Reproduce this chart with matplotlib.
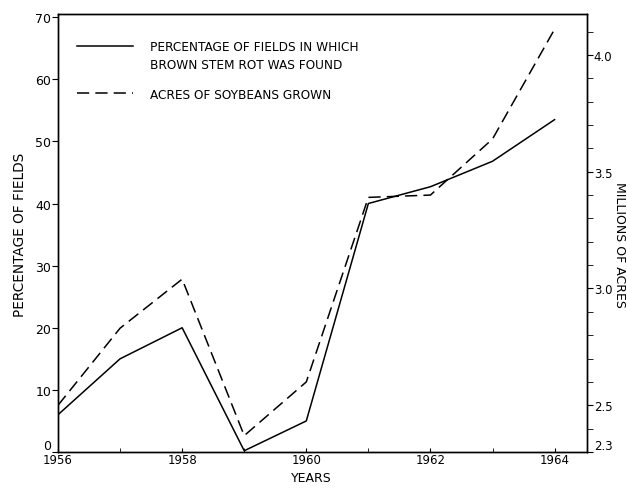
import matplotlib.pyplot as plt
from matplotlib.ticker import MultipleLocator

# Datos
years = [1956, 1957, 1958, 1959, 1960, 1961, 1962, 1963, 1964]
pct_fields = [6, 15, 20, 0.2, 5, 40, 42.7, 46.8, 53.5]
acres_millions = [2.50, 2.83, 3.04, 2.37, 2.60, 3.39, 3.40, 3.64, 4.11]

year_ticks = [1956, 1958, 1960, 1962, 1964]
pct_ticks = [0, 10, 20, 30, 40, 50, 60, 70]
acre_ticks = [2.3, 2.5, 3.0, 3.5, 4.0]
acre_labels = ["2.3", "2.5", "3.0", "3.5", "4.0"]

plt.rcParams["font.family"] = ["DejaVu Sans"]

fig = plt.figure(figsize=(6.27, 4.89), dpi=100)
ax = fig.add_axes([0.0925, 0.0736, 0.8435, 0.8957])
ax2 = ax.twinx()

# Linea continua: porcentaje de campos
ax.plot(years, pct_fields, color="black", lw=1.1)
# Linea discontinua: acres de soya
ax2.plot(years, acres_millions, color="black", lw=1.1, dashes=(8, 4))

ax.set_xlim(1956, 1964.52)
ax.set_ylim(0, 70.5)
ax2.set_ylim(2.3, 4.175)

ax.set_xticks(year_ticks)
ax.set_xticklabels([str(y) for y in year_ticks], fontsize=8.5)
ax.xaxis.set_minor_locator(MultipleLocator(1))
ax.tick_params(axis="x", which="both", direction="in", length=3, pad=1)

ax.set_yticks(pct_ticks)
ax.set_yticklabels([str(v) for v in pct_ticks], fontsize=9)
ax.tick_params(axis="y", direction="out", length=4, pad=1)
# el "0" queda encima del eje, como en el original
ax.get_yticklabels()[0].set_verticalalignment("bottom")

ax2.set_yticks(acre_ticks)
ax2.set_yticklabels(acre_labels, fontsize=8.5)
ax2.yaxis.set_minor_locator(MultipleLocator(0.1))
ax2.tick_params(axis="y", which="both", direction="out", length=4, pad=1)
ax2.get_yticklabels()[0].set_verticalalignment("bottom")

for a in (ax, ax2):
    for s in a.spines.values():
        s.set_linewidth(1.0)

# Etiquetas de ejes colocadas a mano
fig.text(0.497, 0.022, "YEARS", fontsize=9, ha="center", va="center")
fig.text(0.032, 0.52, "PERCENTAGE OF FIELDS", fontsize=9.8, rotation=90,
         ha="center", va="center")
fig.text(0.988, 0.50, "MILLIONS OF ACRES", fontsize=9, rotation=-90,
         ha="center", va="center")

# Leyenda dibujada a mano como en el original
ax.plot([1956.31, 1957.21], [65.4, 65.4], color="black", lw=1.1)
ax.plot([1956.31, 1957.21], [57.8, 57.8], color="black", lw=1.1, dashes=(8, 4))
ax.text(1957.48, 65.3, "PERCENTAGE OF FIELDS IN WHICH", fontsize=8.7, va="center")
ax.text(1957.48, 62.3, "BROWN STEM ROT WAS FOUND", fontsize=8.7, va="center")
ax.text(1957.48, 57.6, "ACRES OF SOYBEANS GROWN", fontsize=8.7, va="center")

fig.savefig("out.png", dpi=100)
